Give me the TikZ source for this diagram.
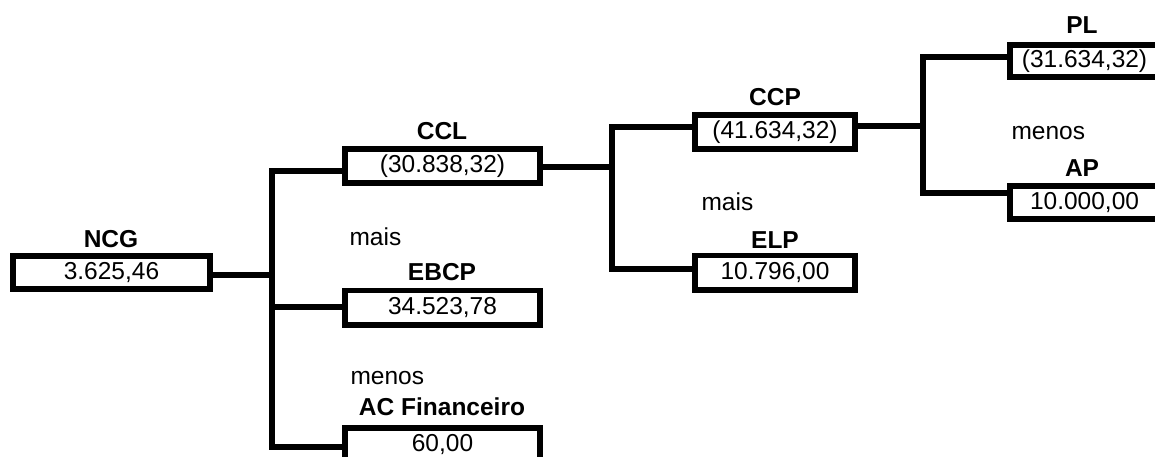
\documentclass[tikz,border=0pt]{standalone}
\usepackage{fontspec}
\setmainfont{Liberation Sans}
\begin{document}
\begin{tikzpicture}[x=1pt,y=-1pt,
  every node/.style={font=\fontsize{24.5}{29}\selectfont},
  valbox/.style={draw, line width=5.8pt, inner sep=0pt, minimum width=195.2pt, minimum height=34.2pt},
  midbox/.style={valbox, minimum width=160.2pt},
  endbox/.style={valbox, minimum width=149.2pt, minimum height=32.7pt},
  lbl/.style={font=\fontsize{24.5}{29}\selectfont\bfseries},
  word/.style={anchor=west},
  conn/.style={line width=5.5pt, line join=miter}]
\useasboundingbox (0,0) rectangle (1155,457);
\clip (0,0) rectangle (1155,457);
% boxes
\node[valbox, minimum width=197.2pt, minimum height=33.2pt] (ncg) at (111.5,272.5) {3.625,46};
\node[valbox] (ccl) at (442.5,166) {(30.838,32)};
\node[valbox] (ebcp) at (442.5,307.5) {34.523,78};
\node[valbox] (acf) at (442.5,445) {60,00};
\node[midbox] (ccp) at (775,132) {(41.634,32)};
\node[midbox] (elp) at (775,272.5) {10.796,00};
\node[endbox] (pl) at (1084.5,61) {(31.634,32)};
\node[endbox] (ap) at (1084.5,202.5) {10.000,00};
% labels
\node[lbl] (lncg) at (111,239) {NCG};
\node[lbl] (lccl) at (442,131) {CCL};
\node[lbl] (lebcp) at (442,272) {EBCP};
\node[lbl] (lacf) at (442,407) {AC Financeiro};
\node[lbl] (lccp) at (775,97) {CCP};
\node[lbl] (lelp) at (775,240) {ELP};
\node[lbl] (lpl) at (1082,25) {PL};
\node[lbl] (lap) at (1082,168) {AP};
\node[word] (w1) at (346,237) {mais};
\node[word] (w2) at (347,378) {menos};
\node[word] (w3) at (698,202) {mais};
\node[word] (w4) at (1008,133) {menos};
% junction coordinates
\coordinate (b1t) at (272,171);
\coordinate (b1m) at (272,275);
\coordinate (b1e) at (272,307);
\coordinate (b1b) at (272,447);
\coordinate (b2t) at (612,127);
\coordinate (b2m) at (612,167);
\coordinate (b2b) at (612,269);
\coordinate (b3t) at (923,57);
\coordinate (b3m) at (923,126);
\coordinate (b3b) at (923,193);
% connectors
\draw[conn] (ncg.east |- b1m) -- (b1m);
\draw[conn] (ccl.west |- b1t) -- (b1t) -- (b1b) -- (acf.west |- b1b);
\draw[conn] (b1e) -- (ebcp.west |- b1e);
\draw[conn] (ccl.east |- b2m) -- (b2m);
\draw[conn] (ccp.west |- b2t) -- (b2t) -- (b2b) -- (elp.west |- b2b);
\draw[conn] (ccp.east |- b3m) -- (b3m);
\draw[conn] (pl.west |- b3t) -- (b3t) -- (b3b) -- (ap.west |- b3b);
\end{tikzpicture}
\end{document}
